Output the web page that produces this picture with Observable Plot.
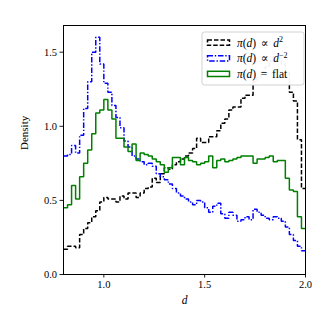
<!DOCTYPE html>
<html><head><meta charset="utf-8">
<script src="https://cdn.jsdelivr.net/npm/d3@7"></script>
<script src="https://cdn.jsdelivr.net/npm/@observablehq/plot@0.6"></script>
<style>
body{margin:0;background:#fff;}
#chart{position:relative;width:334px;height:334px;}
</style></head><body><div id="chart"></div>
<script>
// histogram bins: 60 bins of width 0.02 from 0.8 to 2.0
const binStart = 0.8, binWidth = 0.02, binCount = 60;
const binEdges = d3.range(binCount + 1).map(i => +(binStart + binWidth * i).toFixed(2));

const densD2 = [0.17,0.19,0.19,0.18,0.27,0.31,0.35,0.39,0.43,0.49,0.52,0.51,0.51,0.49,0.53,0.51,0.55,0.55,0.52,0.55,0.58,0.59,0.65,0.62,0.68,0.72,0.71,0.74,0.76,0.78,0.80,0.82,
  0.85,0.92,0.89,0.89,0.93,0.93,0.97,1.02,1.05,1.11,1.13,1.13,1.19,1.21,1.21,
  1.30,1.33,1.37,1.40,1.44,1.47,1.46,1.42,1.36,
  1.23,1.17,0.91,0.58];
const densDm2 = [0.80,0.81,0.87,0.82,0.94,1.12,1.30,1.50,1.60,1.42,1.29,1.23,1.14,1.06,0.99,
  0.90,0.86,0.80,0.78,0.76,0.74,0.75,0.73,0.68,0.66,0.64,0.61,0.58,
  0.55,0.53,0.51,0.49,0.47,0.50,0.49,0.45,0.42,0.46,0.48,0.41,0.38,0.42,0.40,0.36,
  0.37,0.39,0.37,0.44,0.42,0.40,0.38,0.37,0.39,0.38,0.36,0.32,0.27,0.23,0.19,0.16];
const densFlat = [0.45,0.47,0.60,0.51,0.66,0.75,0.84,0.95,1.09,1.11,1.18,1.11,1.05,0.92,0.92,
  0.86,0.83,0.88,0.77,0.82,0.81,0.80,0.78,0.76,0.74,0.69,0.72,0.79,0.79,0.74,0.79,0.77,
  0.76,0.74,0.75,0.76,0.80,0.72,0.77,0.78,0.76,0.77,0.78,0.79,0.80,0.80,0.80,
  0.75,0.78,0.78,0.79,0.80,0.76,0.77,0.77,0.65,0.57,0.56,0.39,0.31];

const xTicks = [1.0, 1.5, 2.0];
const yTicks = [0.0, 0.5, 1.0, 1.5];

const series = [
  {key: "d2", values: densD2, color: "#000000", dash: "4.5,2"},
  {key: "dm2", values: densDm2, color: "#0000ff", dash: "5.5,1.8,1.4,1.8"},
  {key: "flat", values: densFlat, color: "#008000", dash: null}
];

function stepRows(s) {
  const rows = s.values.map((v, i) => ({x: binEdges[i], y: v}));
  rows.push({x: binEdges[binCount], y: s.values[binCount - 1]});
  return rows;
}

const font = "'Liberation Serif', 'DejaVu Serif', serif";

const plot = Plot.plot({
  width: 334, height: 334,
  marginLeft: 63, marginRight: 29, marginTop: 25, marginBottom: 60,
  style: {fontFamily: font, fontSize: "10.5px", background: "#fff", color: "#000", overflow: "visible"},
  x: {domain: [0.8, 2.0]},
  y: {domain: [0, 1.68]},
  marks: [
    ...series.map(s => Plot.line(stepRows(s), {
      x: "x", y: "y", curve: "step-after", stroke: s.color, strokeWidth: 1.5,
      strokeDasharray: s.dash, strokeLinejoin: "miter", strokeLinecap: "butt"
    })),
    Plot.axisX({ticks: xTicks, tickFormat: d => d.toFixed(1), tickSize: 3.5, tickPadding: 3, label: null, stroke: "#000", strokeWidth: 0.9}),
    Plot.axisY({ticks: yTicks, tickFormat: d => d.toFixed(1), tickSize: 3.5, tickPadding: 3, label: null, stroke: "#000", strokeWidth: 0.9}),
    Plot.frame({stroke: "#000", strokeWidth: 1}),
    Plot.text(["Density"], {frameAnchor: "left", dx: -39, rotate: -90, fontSize: 11, fill: "#000"}),
    Plot.text(["d"], {frameAnchor: "bottom", dy: 29, fontSize: 11.5, fontStyle: "italic", fill: "#000"})
  ]
});

document.getElementById("chart").appendChild(plot);

// legend (inside the axes, upper right)
const legendItems = [
  {s: series[0], parts: [["π", "i"], ["(", "n"], ["d", "i"], [")\u2009\u2009∝\u2009\u2009", "n"], ["d", "i"], ["2", "sup"]]},
  {s: series[1], parts: [["π", "i"], ["(", "n"], ["d", "i"], [")\u2009\u2009∝\u2009\u2009", "n"], ["d", "i"], ["−2", "sup"]]},
  {s: series[2], parts: [["π", "i"], ["(", "n"], ["d", "i"], [")\u2009\u2009=\u2009\u2009flat", "n"]]}
];
const svg = d3.select(plot);
const lg = svg.append("g").attr("transform", "translate(202,32)");
lg.append("rect").attr("x", 0).attr("y", 0).attr("width", 102).attr("height", 53)
  .attr("rx", 2.5).attr("fill", "#fff").attr("fill-opacity", 0.95)
  .attr("stroke", "#cccccc").attr("stroke-width", 0.9);
legendItems.forEach((it, i) => {
  const cy = 10.7 + i * 15.6;
  lg.append("rect").attr("x", 5.5).attr("y", cy - 2.6).attr("width", 22).attr("height", 5.2)
    .attr("fill", "none").attr("stroke", it.s.color).attr("stroke-width", 1.5)
    .attr("stroke-dasharray", it.s.dash);
  const t = lg.append("text").attr("x", 35).attr("y", cy + 4)
    .attr("text-anchor", "start")
    .attr("font-family", font).attr("font-size", 11.5).attr("fill", "#000");
  it.parts.forEach(([txt, kind]) => {
    const sp = t.append("tspan").text(txt);
    if (kind === "i") sp.attr("font-style", "italic");
    if (kind === "sup") sp.attr("font-size", 8).attr("dy", -4.5);
  });
});
</script>
</body></html>
